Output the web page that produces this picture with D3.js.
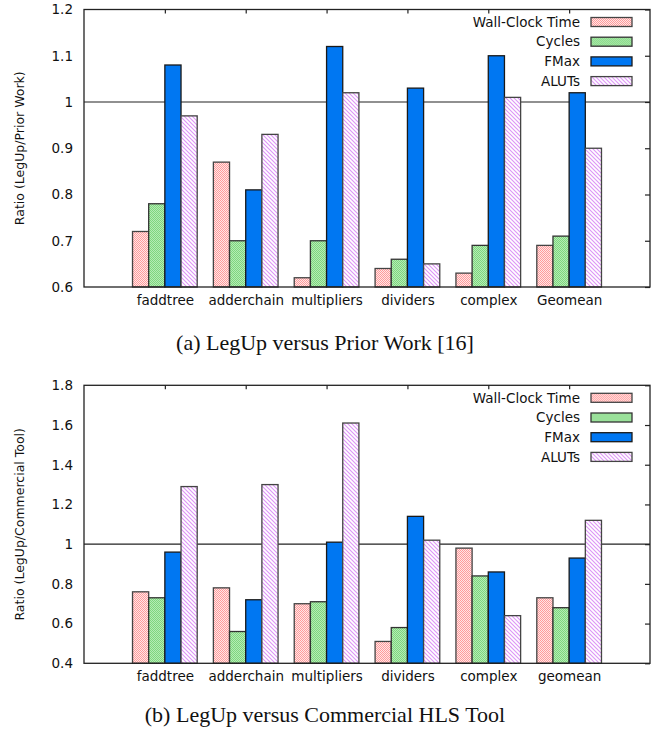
<!DOCTYPE html>
<html lang="en">
<head>
<meta charset="UTF-8">
<title>LegUp ratios</title>
<script src="https://cdn.jsdelivr.net/npm/d3@7"></script>
<style>
  body { margin: 0; background: #fff; }
  svg { display: block; }
</style>
</head>
<body>
<script>
// data
var seriesNames = ["Wall-Clock Time", "Cycles", "FMax", "ALUTs"];

var catsA = ["faddtree", "adderchain", "multipliers", "dividers", "complex", "Geomean"];
var wallA = [0.72, 0.87, 0.62, 0.64, 0.63, 0.69];
var cyclesA = [0.78, 0.70, 0.70, 0.66, 0.69, 0.71];
var fmaxA = [1.08, 0.81, 1.12, 1.03, 1.10, 1.02];
var alutsA = [0.97, 0.93, 1.02, 0.65, 1.01, 0.90];
var ticksA = [0.6, 0.7, 0.8, 0.9, 1, 1.1, 1.2];

var catsB = ["faddtree", "adderchain", "multipliers", "dividers", "complex", "geomean"];
var wallB = [0.76, 0.78, 0.70, 0.51, 0.98, 0.73];
var cyclesB = [0.73, 0.56, 0.71, 0.58, 0.84, 0.68];
var fmaxB = [0.96, 0.72, 1.01, 1.14, 0.86, 0.93];
var alutsB = [1.29, 1.30, 1.61, 1.02, 0.64, 1.12];
var ticksB = [0.4, 0.6, 0.8, 1, 1.2, 1.4, 1.6, 1.8];

var W = 660, H = 730;
var svg = d3.select("body").append("svg")
	.attr("width", W)
	.attr("height", H);

// fill patterns
var defs = svg.append("defs");

var red = defs.append("pattern").attr("id", "pRed")
	.attr("patternUnits", "userSpaceOnUse").attr("width", 2).attr("height", 2);
red.append("rect").attr("width", 2).attr("height", 2).attr("fill", "#ffe6e6");
red.append("rect").attr("width", 1).attr("height", 1).attr("fill", "#ff9c9c");
red.append("rect").attr("x", 1).attr("y", 1).attr("width", 1).attr("height", 1).attr("fill", "#ff9c9c");

var green = defs.append("pattern").attr("id", "pGreen")
	.attr("patternUnits", "userSpaceOnUse").attr("width", 2).attr("height", 2);
green.append("rect").attr("width", 2).attr("height", 2).attr("fill", "#b4ecb4");
green.append("rect").attr("width", 1).attr("height", 1).attr("fill", "#7fd67f");
green.append("rect").attr("x", 1).attr("y", 1).attr("width", 1).attr("height", 1).attr("fill", "#7fd67f");

var hatch = defs.append("pattern").attr("id", "pHatch")
	.attr("patternUnits", "userSpaceOnUse").attr("width", 4).attr("height", 4);
hatch.append("rect").attr("width", 4).attr("height", 4).attr("fill", "#fff");
hatch.append("path").attr("d", "M-1,-1 L5,5 M-1,3 L1,5 M3,-1 L5,1")
	.attr("stroke", "#dd95f7").attr("stroke-width", 1.1);

var fills = ["url(#pRed)", "url(#pGreen)", "#0077f2", "url(#pHatch)"];
var strokes = ["#444", "#333", "#1a1a1a", "#444"];

function drawChart(cfg) {
	var left = 84, right = 650;
	var g = svg.append("g");

	var x = d3.scaleLinear().domain([-1, 6]).range([left, right]);
	var y = d3.scaleLinear().domain(cfg.domain).range([cfg.bottom, cfg.top]);

	// reference line at 1
	g.append("line")
		.attr("x1", left).attr("x2", right)
		.attr("y1", y(1)).attr("y2", y(1))
		.attr("stroke", "#222").attr("stroke-width", 1.2);

	var series = cfg.series;
	var bw = 0.2;
	series.forEach(function(vals, s) {
		g.selectAll("rect.s" + s)
			.data(vals)
			.enter()
			.append("rect")
			.attr("class", "s" + s)
			.attr("x", function(d, i) { return x(i - 0.4 + s * bw); })
			.attr("width", x(bw) - x(0))
			.attr("y", function(d) { return y(d); })
			.attr("height", function(d) { return cfg.bottom - y(d); })
			.attr("fill", fills[s])
			.attr("stroke", strokes[s])
			.attr("stroke-width", 1.3);
	});

	// frame
	g.append("rect")
		.attr("x", left).attr("y", cfg.top)
		.attr("width", right - left).attr("height", cfg.bottom - cfg.top)
		.attr("fill", "none").attr("stroke", "#222").attr("stroke-width", 1.3);

	// left tick labels
	var yAxis = d3.axisLeft(y).tickValues(cfg.ticks).tickSize(0).tickPadding(11)
		.tickFormat(function(d) { return String(d); });
	var ya = g.append("g").attr("transform", "translate(" + left + ",0)").call(yAxis);
	ya.select(".domain").remove();
	ya.selectAll("text").attr("font-family", "DejaVu Sans").attr("font-size", 13.5).attr("fill", "#111");

	// mirrored ticks on right
	var yr = d3.axisLeft(y).tickValues(cfg.ticks).tickSize(5).tickFormat("");
	var yrg = g.append("g").attr("transform", "translate(" + right + ",0)").call(yr);
	yrg.select(".domain").remove();
	yrg.selectAll("line").attr("stroke", "#222").attr("stroke-width", 1.2);

	// category labels and top ticks
	var xAxis = d3.axisBottom(x).tickValues(d3.range(cfg.cats.length)).tickSize(0).tickPadding(8)
		.tickFormat(function(d) { return cfg.cats[d]; });
	var xa = g.append("g").attr("transform", "translate(0," + cfg.bottom + ")").call(xAxis);
	xa.select(".domain").remove();
	xa.selectAll("text").attr("font-family", "DejaVu Sans").attr("font-size", 13.5).attr("fill", "#111");

	var xt = d3.axisBottom(x).tickValues(d3.range(cfg.cats.length)).tickSize(4).tickFormat("");
	var xtg = g.append("g").attr("transform", "translate(0," + cfg.top + ")").call(xt);
	xtg.select(".domain").remove();
	xtg.selectAll("line").attr("stroke", "#222").attr("stroke-width", 1.2);

	// y title
	g.append("text")
		.attr("transform", "translate(24," + ((cfg.top + cfg.bottom) / 2) + ") rotate(-90)")
		.attr("text-anchor", "middle")
		.attr("font-family", "DejaVu Sans").attr("font-size", 12.5).attr("fill", "#111")
		.text(cfg.ylabel);

	// legend
	var leg = g.selectAll("g.leg")
		.data(seriesNames)
		.enter()
		.append("g")
		.attr("transform", function(d, i) { return "translate(0," + (cfg.top + 12.5 + i * 19.7) + ")"; });
	leg.append("text")
		.attr("x", 580).attr("dy", "0.35em")
		.attr("text-anchor", "end")
		.attr("font-family", "DejaVu Sans").attr("font-size", 13.5).attr("fill", "#111")
		.text(function(d) { return d; });
	leg.append("rect")
		.attr("x", 591).attr("y", -4.5)
		.attr("width", 41).attr("height", 9)
		.attr("fill", function(d, i) { return fills[i]; })
		.attr("stroke", function(d, i) { return strokes[i]; })
		.attr("stroke-width", 1.3);

	// caption
	svg.append("text")
		.attr("x", 325).attr("y", cfg.capY)
		.attr("text-anchor", "middle")
		.attr("font-family", "Liberation Serif").attr("font-size", 22).attr("fill", "#111")
		.text(cfg.caption);
}

drawChart({
	cats: catsA, series: [wallA, cyclesA, fmaxA, alutsA], ticks: ticksA,
	domain: [0.6, 1.2], top: 9.5, bottom: 287,
	ylabel: "Ratio (LegUp/Prior Work)",
	caption: "(a) LegUp versus Prior Work [16]", capY: 350
});

drawChart({
	cats: catsB, series: [wallB, cyclesB, fmaxB, alutsB], ticks: ticksB,
	domain: [0.4, 1.8], top: 385.3, bottom: 663.3,
	ylabel: "Ratio (LegUp/Commercial Tool)",
	caption: "(b) LegUp versus Commercial HLS Tool", capY: 722
});
</script>
</body>
</html>
